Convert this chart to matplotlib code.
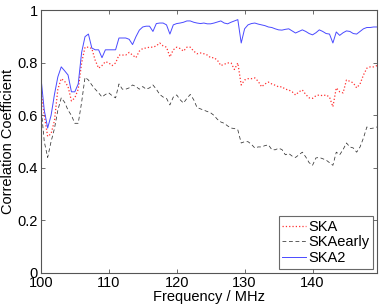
import numpy as np
import matplotlib
matplotlib.use("Agg")
import matplotlib.pyplot as plt

plt.rcParams['font.family'] = ['Liberation Sans', 'DejaVu Sans']

# frequency grid, 0.5 MHz steps
freq = np.arange(100, 150, 0.5)

ska = [0.70, 0.60, 0.52, 0.53, 0.58, 0.70, 0.74, 0.73, 0.71, 0.655,
       0.667, 0.70, 0.80, 0.86, 0.86, 0.855, 0.81, 0.78, 0.79, 0.805,
       0.80, 0.79, 0.80, 0.83, 0.83, 0.83, 0.84, 0.83, 0.82, 0.845,
       0.855, 0.857, 0.86, 0.86, 0.865, 0.876, 0.865, 0.86, 0.823, 0.85,
       0.86, 0.855, 0.845, 0.86, 0.86, 0.845, 0.835, 0.838, 0.835, 0.83,
       0.82, 0.82, 0.81, 0.79, 0.795, 0.80, 0.80, 0.775, 0.80, 0.716,
       0.735, 0.74, 0.74, 0.743, 0.73, 0.709, 0.72, 0.727, 0.72, 0.715,
       0.709, 0.709, 0.70, 0.697, 0.69, 0.678, 0.69, 0.697, 0.68, 0.667,
       0.665, 0.675, 0.678, 0.675, 0.678, 0.67, 0.633, 0.705, 0.69, 0.686,
       0.735, 0.73, 0.724, 0.705, 0.72, 0.754, 0.78, 0.785, 0.785, 0.79]

ska_early = [0.64, 0.50, 0.44, 0.50, 0.55, 0.62, 0.667, 0.65, 0.62, 0.60,
             0.57, 0.57, 0.65, 0.745, 0.735, 0.716, 0.70, 0.686, 0.67, 0.68,
             0.686, 0.675, 0.667, 0.72, 0.70, 0.70, 0.705, 0.716, 0.71, 0.70,
             0.71, 0.70, 0.705, 0.716, 0.70, 0.68, 0.67, 0.665, 0.64, 0.67,
             0.678, 0.66, 0.647, 0.665, 0.68, 0.66, 0.63, 0.625, 0.62, 0.615,
             0.61, 0.60, 0.585, 0.575, 0.57, 0.56, 0.552, 0.55, 0.545, 0.495,
             0.50, 0.50, 0.49, 0.476, 0.48, 0.48, 0.485, 0.488, 0.47, 0.469,
             0.475, 0.47, 0.45, 0.455, 0.445, 0.44, 0.45, 0.46, 0.442, 0.42,
             0.41, 0.438, 0.44, 0.435, 0.43, 0.42, 0.41, 0.46, 0.45, 0.47,
             0.495, 0.48, 0.476, 0.46, 0.48, 0.514, 0.556, 0.55, 0.552, 0.556]

ska2 = [0.747, 0.62, 0.552, 0.60, 0.68, 0.747, 0.785, 0.77, 0.754, 0.69,
        0.69, 0.72, 0.84, 0.90, 0.91, 0.857, 0.85, 0.85, 0.82, 0.85,
        0.85, 0.85, 0.85, 0.895, 0.895, 0.895, 0.89, 0.87, 0.90, 0.925,
        0.937, 0.94, 0.94, 0.92, 0.95, 0.952, 0.952, 0.945, 0.91, 0.945,
        0.95, 0.952, 0.955, 0.96, 0.96, 0.955, 0.952, 0.95, 0.952, 0.949,
        0.949, 0.952, 0.956, 0.96, 0.952, 0.949, 0.955, 0.96, 0.965, 0.876,
        0.93, 0.945, 0.95, 0.952, 0.948, 0.945, 0.942, 0.937, 0.935, 0.93,
        0.926, 0.925, 0.928, 0.93, 0.922, 0.914, 0.92, 0.926, 0.92, 0.912,
        0.907, 0.915, 0.926, 0.92, 0.912, 0.91, 0.876, 0.918, 0.905, 0.915,
        0.922, 0.92, 0.912, 0.91, 0.92, 0.93, 0.935, 0.935, 0.937, 0.937]

fig = plt.figure(figsize=(3.82, 3.07), dpi=100)
ax = fig.add_axes([0.107, 0.111, 0.88, 0.855])

ax.plot(freq, ska, color="#ff3030", linestyle=":", linewidth=0.9, label="SKA")
ax.plot(freq, ska_early, color="#333333", linestyle="--", linewidth=0.55,
        dashes=(5, 3.5), label="SKAearly")
ax.plot(freq, ska2, color="#4a4aff", linestyle="-", linewidth=0.7, label="SKA2")

ax.set_xlim(100, 149.5)
ax.set_ylim(0, 1)
ax.set_xticks([100, 110, 120, 130, 140])
ax.set_yticks([0, 0.2, 0.4, 0.6, 0.8, 1])
ax.set_yticklabels(["0", "0.2", "0.4", "0.6", "0.8", "1"])
ax.tick_params(direction="in", top=True, right=True, labelsize=10.5,
               length=3, width=0.6, color="#555555", pad=2)
for s in ax.spines.values():
    s.set_color("#555555")
    s.set_linewidth(0.8)

ax.set_xlabel("Frequency / MHz", fontsize=10.5, labelpad=0)
ax.set_ylabel("Correlation Coefficient", fontsize=10.5, labelpad=2)

leg = ax.legend(loc="lower right", fontsize=10.5, fancybox=False,
                handlelength=1.6, handletextpad=0.15, borderpad=0.25,
                labelspacing=0.1, borderaxespad=0.3)
leg.get_frame().set_edgecolor("#444444")
leg.get_frame().set_linewidth(0.8)

fig.savefig("out.png", dpi=100)
